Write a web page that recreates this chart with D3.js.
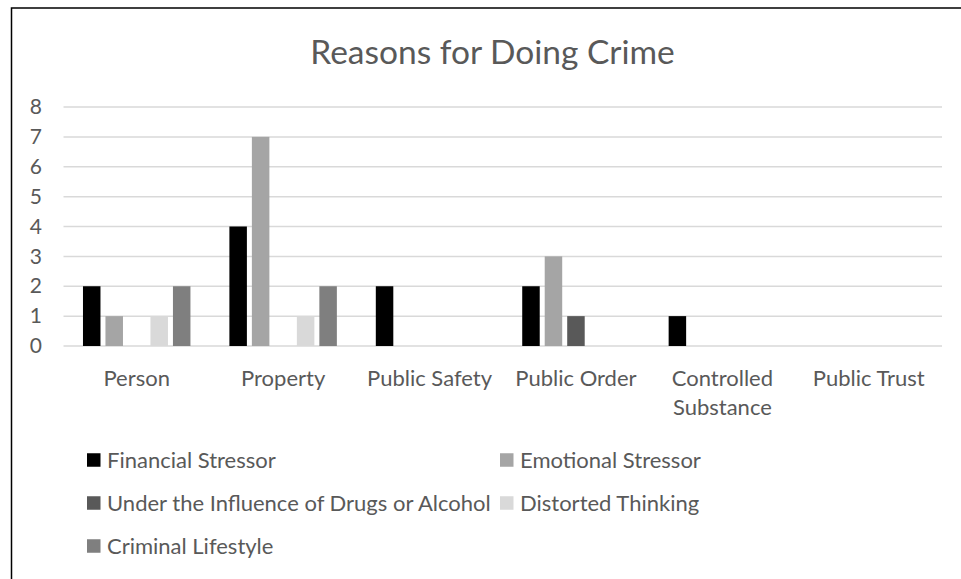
<!DOCTYPE html>
<html><head><meta charset="utf-8">
<script src="https://cdn.jsdelivr.net/npm/d3@7"></script>
<style>body{margin:0;background:#fff}svg{display:block}text{font-family:Lato,"Open Sans",sans-serif;fill:#595959}</style>
</head><body><svg id="c" width="961" height="579"></svg>
<script>
const categories = ["Person","Property","Public Safety","Public Order","Controlled Substance","Public Trust"];
const seriesNames = ["Financial Stressor","Emotional Stressor","Under the Influence of Drugs or Alcohol","Distorted Thinking","Criminal Lifestyle"];
const financial = [2,4,2,2,1,0];
const emotional = [1,7,0,3,0,0];
const influence = [0,0,0,1,0,0];
const distorted = [1,1,0,0,0,0];
const lifestyle = [2,2,0,0,0,0];
const seriesColors = ["#000000","#a5a5a5","#595959","#d9d9d9","#7f7f7f"];
const yTicks = [0,1,2,3,4,5,6,7,8];
const title = "Reasons for Doing Crime";

(function(){
const values = [financial, emotional, influence, distorted, lifestyle];
const svg = d3.select("#c");
svg.append("rect").attr("x",11.5).attr("y",8).attr("width",1000).attr("height",700)
  .attr("fill","#fff").attr("stroke","#000").attr("stroke-width",1.5);

const pl = 63.5, pr = 942, pt = 107, pb = 346;
const x = d3.scaleBand().domain(categories).range([pl,pr]).padding(0);
const bw = x.bandwidth();
const xi = d3.scaleBand().domain(seriesNames).range([bw*0.133, bw*(1-0.133)]).paddingInner(0.222).paddingOuter(0);
const y = d3.scaleLinear().domain([0,8]).range([pb,pt]);

svg.append("text").attr("x",492.5).attr("y",64).attr("text-anchor","middle")
  .style("font-size","33.5px").text(title);

const g = svg.append("g");
g.selectAll("line.grid").data(yTicks).enter().append("line")
  .attr("x1",pl).attr("x2",pr).attr("y1",d=>y(d)).attr("y2",d=>y(d))
  .attr("stroke","#d9d9d9").attr("stroke-width",1.5);

const yAxis = d3.axisLeft(y).tickValues(yTicks).tickSize(0).tickPadding(0);
const ya = svg.append("g").attr("transform",`translate(42,0)`).call(yAxis);
ya.select(".domain").remove();
ya.selectAll("text").style("font-size","21px").style("font-family","Lato").attr("fill","#595959");

seriesNames.forEach((s,si)=>{
  g.selectAll(null).data(categories.map((c,ci)=>({c,v:values[si][ci]})).filter(d=>d.v>0)).enter().append("rect")
    .attr("x",d=>x(d.c)+xi(s)).attr("width",xi.bandwidth())
    .attr("y",d=>y(d.v)).attr("height",d=>y(0)-y(d.v))
    .attr("fill",seriesColors[si]);
});

const xfs = 22;
const xAxis = d3.axisBottom(x).tickSize(0).tickPadding(0);
const xa = svg.append("g").attr("transform",`translate(0,${pb})`).call(xAxis);
xa.select(".domain").remove();
xa.selectAll("text").style("font-size",xfs+"px").style("font-family","Lato").attr("fill","#595959")
  .attr("dy",null).attr("y",40)
  .each(function(d){
    const t = d3.select(this);
    t.text(null);
    const words = d.split(" ");
    let lines=[], cur="";
    const probe = svg.append("text").style("font-size",xfs+"px");
    words.forEach(w=>{
      const test = cur? cur+" "+w : w;
      probe.text(test);
      if (probe.node().getComputedTextLength() > bw-6 && cur){ lines.push(cur); cur=w; } else cur=test;
    });
    lines.push(cur); probe.remove();
    lines.forEach((l,i)=>t.append("tspan").attr("x",0).attr("y",40+i*28.5).text(l));
  });

const legendPos = [[87,460],[500,460],[87,503],[500,503],[87,546]];
const lg = svg.append("g");
seriesNames.forEach((s,i)=>{
  const [lx,ly]=legendPos[i];
  lg.append("rect").attr("x",lx).attr("y",ly-6.75).attr("width",13.5).attr("height",13.5).attr("fill",seriesColors[i]);
  lg.append("text").attr("x",lx+20).attr("y",ly+7.5).style("font-size","22px").text(s);
});
})();
</script></body></html>
